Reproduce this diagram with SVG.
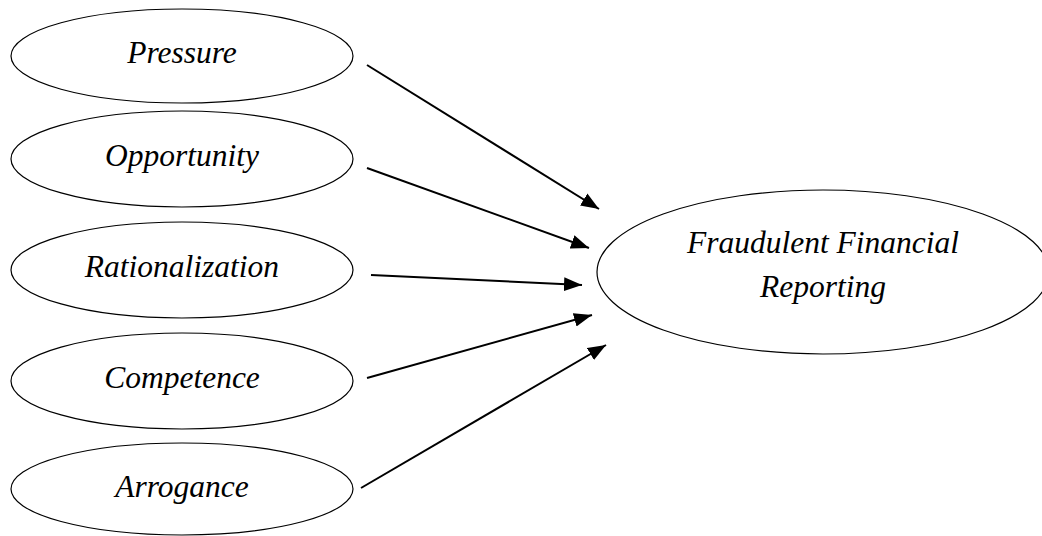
<svg xmlns="http://www.w3.org/2000/svg" width="1042" height="536" viewBox="0 0 1042 536">
  <style>
    .node ellipse { fill: #ffffff; stroke: #000000; stroke-width: 1.2; }
    .node text { font-family: "Liberation Serif", "Times New Roman", serif; font-style: italic; font-size: 31.5px; fill: #000000; text-anchor: middle; }
    .edge line { stroke: #000000; stroke-width: 2; marker-end: url(#arrow); }
  </style>
  <defs>
    <marker id="arrow" markerUnits="userSpaceOnUse" markerWidth="20" markerHeight="16" refX="18" refY="8" orient="auto">
      <path d="M0,1 L18,8 L0,15 Z" fill="#000000"/>
    </marker>
  </defs>
  <rect width="1042" height="536" fill="#ffffff"/>
  <g id="pressure" class="node">
    <ellipse cx="182" cy="56" rx="171" ry="47"/>
    <text x="182" y="63">Pressure</text>
  </g>
  <g id="opportunity" class="node">
    <ellipse cx="182" cy="159" rx="171" ry="48"/>
    <text x="182" y="166">Opportunity</text>
  </g>
  <g id="rationalization" class="node">
    <ellipse cx="182" cy="270" rx="171" ry="48"/>
    <text x="182" y="277">Rationalization</text>
  </g>
  <g id="competence" class="node">
    <ellipse cx="182" cy="381" rx="171" ry="48"/>
    <text x="182" y="388">Competence</text>
  </g>
  <g id="arrogance" class="node">
    <ellipse cx="182" cy="489" rx="171" ry="46"/>
    <text x="182" y="497">Arrogance</text>
  </g>
  <g id="ffr" class="node">
    <ellipse cx="823" cy="272" rx="226" ry="82"/>
    <text x="823" y="253">Fraudulent Financial</text>
    <text x="823" y="297">Reporting</text>
  </g>
  <g id="connectors" class="edge">
    <line x1="367" y1="65" x2="599" y2="209"/>
    <line x1="367" y1="168" x2="589" y2="248"/>
    <line x1="371" y1="275" x2="582" y2="285"/>
    <line x1="367" y1="378" x2="592" y2="315"/>
    <line x1="361" y1="488" x2="606" y2="345"/>
  </g>
</svg>
